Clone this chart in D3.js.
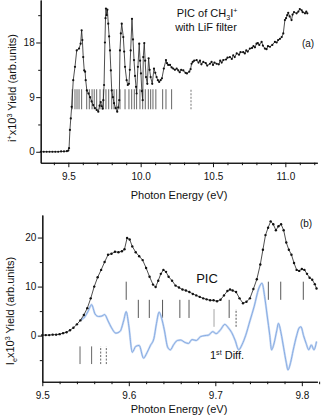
<!DOCTYPE html>
<html>
<head>
<meta charset="utf-8">
<script src="https://cdn.jsdelivr.net/npm/d3@7"></script>
<style>
body { margin: 0; background: #fff; }
svg { display: block; font-family: "Liberation Sans", Arial, sans-serif; }
</style>
</head>
<body>
<div id="chart"></div>
<script>
// ---- panel (a): PIC of CH3I+ with LiF filter
var energyA = [9.31, 9.33, 9.35, 9.37, 9.39, 9.41, 9.43, 9.45, 9.47, 9.49, 9.50, 9.505, 9.511, 9.517, 9.523,
  9.534, 9.546, 9.558, 9.574, 9.585, 9.592, 9.597, 9.603, 9.610, 9.616, 9.620, 9.628, 9.639, 9.650, 9.661,
  9.672, 9.684, 9.696, 9.707, 9.716, 9.724, 9.731, 9.737, 9.742, 9.747, 9.753, 9.757, 9.760, 9.765, 9.770,
  9.776, 9.782, 9.788, 9.794, 9.800, 9.808, 9.816, 9.827, 9.838, 9.845, 9.852, 9.857, 9.863, 9.869, 9.880,
  9.886, 9.892, 9.903, 9.911, 9.919, 9.925, 9.931, 9.940, 9.947, 9.954, 9.961, 9.968, 9.972, 9.981, 9.990,
  9.996, 10.002, 10.008, 10.014, 10.018, 10.025, 10.031, 10.037, 10.046, 10.055, 10.062, 10.069, 10.080,
  10.092, 10.101, 10.110, 10.119, 10.128, 10.138, 10.147, 10.160, 10.175, 10.182, 10.190, 10.203, 10.214,
  10.225, 10.237, 10.249, 10.260, 10.270, 10.280, 10.295, 10.310, 10.320, 10.336, 10.345, 10.352, 10.360,
  10.370, 10.387, 10.400, 10.410, 10.420, 10.433, 10.450, 10.460, 10.479, 10.490, 10.500, 10.510, 10.525,
  10.540, 10.550, 10.560, 10.571, 10.590, 10.600, 10.617, 10.630, 10.640, 10.650, 10.664, 10.680, 10.690,
  10.709, 10.720, 10.730, 10.740, 10.755, 10.770, 10.780, 10.790, 10.801, 10.810, 10.820, 10.836, 10.845,
  10.859, 10.870, 10.880, 10.894, 10.910, 10.928, 10.940, 10.950, 10.963, 10.975, 10.986, 10.997, 11.005,
  11.013, 11.020, 11.030, 11.043, 11.050, 11.060, 11.078, 11.090, 11.100, 11.113, 11.120, 11.136, 11.145, 11.152];
var yieldA = [0, 0, 0, 0, 0, 0, 0, 0.05, 0.05, 0.1, 0.2, 0.6, 3.6, 5.5, 7.4,
  11.8, 14, 16.7, 17, 17.8, 20, 18.4, 15.6, 13.4, 13.2, 11.8, 10.1, 9.6, 9, 8.3,
  7.7, 7.2, 6.9, 6.6, 7.6, 8.2, 7.5, 7.1, 8.5, 11, 18, 22, 23.6, 22.5, 23.4,
  21.1, 19, 16.7, 13.4, 10.1, 9, 8, 7.2, 6.6, 7.3, 8.5, 16.7, 19.5, 21.1, 18.9,
  16.5, 14, 11.8, 11.0, 11.2, 13.5, 16.7, 21.9, 18.5, 15.1, 12.5, 10.7, 9.6, 14, 17.8,
  15, 12.9, 10, 8.5, 15.6, 17.9, 15, 12.3, 11.2, 15.4, 13.5, 12.3, 11.2,
  13.7, 13, 12.3, 11.8, 11.5, 11.8, 12.1, 13.7, 15.1, 14.6, 14.3, 14.3, 13.9,
  13.7, 13.5, 13.7, 13.4, 13.1, 13.5, 13.4, 13.0, 12.9, 13.2, 13.6, 14.5, 14.8,
  15.0, 15.1, 14.7, 15.0, 14.4, 14.8, 14.6, 14.2, 14.5, 14.8, 14.3, 14.7, 14.5,
  14.4, 15.0, 14.7, 15.1, 15.2, 15.5, 15.6, 15.3, 15.9, 15.6, 16.2, 16.0, 16.4,
  16.4, 16.2, 16.7, 16.5, 17, 17.1, 17.4, 17.2, 17.8, 17.9, 17.6, 18.1, 17.5,
  17, 16.9, 17.4, 17.3, 17.6, 18.1, 18.0, 18.4, 18.6, 18.9, 19.5, 21.7, 22.0,
  22.5, 22.9, 22.3, 21.7, 22.6, 23.0, 22.8, 23.1, 23.5, 23.3, 23.0, 22.8, 23.1, 22.8];
var levelsA = [9.527, 9.546, 9.560, 9.574, 9.592, 9.627, 9.645, 9.664, 9.679, 9.696, 9.719, 9.742,
  9.760, 9.779, 9.800, 9.816, 9.834, 9.857, 9.892, 9.919, 9.938, 9.956, 9.972, 9.995, 10.014,
  10.032, 10.053, 10.069, 10.085, 10.105, 10.152, 10.175, 10.214];
var levelsADashed = [10.348];
var ticksAX = [9.5, 10.0, 10.5, 11.0];
var ticksAY = [0, 9, 18];

// ---- panel (b): PIC and first difference
var energyB = [9.500, 9.504, 9.508, 9.512, 9.516, 9.520, 9.524, 9.528, 9.532, 9.536, 9.540, 9.544, 9.548,
  9.552, 9.556, 9.560, 9.564, 9.568, 9.572, 9.576, 9.580, 9.584, 9.588, 9.592, 9.595, 9.598, 9.601, 9.604,
  9.608, 9.612, 9.616, 9.620, 9.624, 9.628, 9.631, 9.634, 9.637, 9.640, 9.643, 9.646, 9.650, 9.654, 9.658,
  9.662, 9.666, 9.670, 9.674, 9.678, 9.682, 9.686, 9.690, 9.694, 9.698, 9.702, 9.706, 9.710, 9.714, 9.717,
  9.720, 9.724, 9.728, 9.732, 9.736, 9.740, 9.744, 9.748, 9.752, 9.755, 9.758, 9.761, 9.764, 9.767, 9.770,
  9.773, 9.776, 9.779, 9.782, 9.785, 9.788, 9.791, 9.794, 9.797, 9.800, 9.803, 9.806, 9.809, 9.812, 9.815, 9.817];
var yieldB = [0.1, 0.1, 0.1, 0.2, 0.2, 0.3, 0.5, 0.7, 1.1, 1.6, 2.3, 3.1, 4.2,
  5.6, 7.6, 10.0, 11.9, 13.4, 15.0, 16.5, 16.7, 17.1, 17.0, 17.2, 17.6, 19.9, 19.6, 18.2,
  17.0, 16.2, 15.4, 13.8, 12.0, 10.4, 9.9, 11.2, 12.6, 13.4, 13.0, 12.0, 11.2, 10.2, 9.8,
  9.4, 9.2, 8.9, 8.5, 8.2, 7.9, 7.6, 7.4, 7.2, 7.2, 7.0, 7.3, 8.2, 9.1, 9.4,
  9.2, 8.9, 7.6, 6.6, 6.9, 7.6, 9.5, 11.5, 14.5, 17.5, 20.5, 22.0, 23.3, 22.7, 21.5,
  22.3, 22.7, 21.5, 19.0, 17.5, 16.5, 14.8, 13.4, 13.2, 13.6, 13.4, 12.6, 11.8, 11.4, 10.5, 9.6];
var diffEnergy = [9.545, 9.549, 9.553, 9.557, 9.561, 9.565, 9.569, 9.572, 9.576, 9.580, 9.585, 9.590, 9.594,
  9.597, 9.600, 9.604, 9.608, 9.612, 9.617, 9.621, 9.625, 9.629, 9.632, 9.635, 9.638, 9.641, 9.645, 9.648,
  9.652, 9.656, 9.660, 9.665, 9.669, 9.673, 9.678, 9.683, 9.688, 9.692, 9.697, 9.701, 9.706, 9.711, 9.715,
  9.719, 9.723, 9.727, 9.731, 9.735, 9.740, 9.745, 9.750, 9.754, 9.757, 9.760, 9.763, 9.765, 9.768, 9.771,
  9.773, 9.776, 9.779, 9.782, 9.784, 9.787, 9.790, 9.794, 9.797, 9.799, 9.802, 9.805, 9.808, 9.811, 9.814, 9.817];
var diffYield = [3.2, 3.8, 5.0, 6.3, 4.4, 3.9, 4.0, 4.3, 3.0, 1.6, 0.5, 0.9, 3.0,
  4.9, 2.0, -3.4, -2.2, -2.0, -4.6, -3.5, -2.0, -0.6, 2.5, 4.8, 3.5, 1.2, -2.4, -2.9,
  -1.8, -1.0, -0.9, -1.4, -1.6, -0.8, -1.0, -0.2, 0.0, 0.1, 0.8, 0.4, 1.2, 2.3, 1.6,
  0.6, -1.0, -2.9, -1.8, 0.0, 3.0, 6.0, 9.5, 10.7, 8.0, 4.0, 0.0, -2.9, -1.5, 1.0,
  2.5, 0.5, -2.5, -5.5, -7.0, -5.5, -3.0, 0.0, 1.6, 1.8, 0.0, -1.6, -2.9, -1.9, -2.9, -1.2];
var levelsBTop = [9.597, 9.7613, 9.7756, 9.8017];
var levelsBMid = [9.611, 9.6237, 9.639, 9.659, 9.6696, 9.716];
var levelsBLow2 = [9.6985];
var levelsBLow2Dashed = [9.724];
var levelsBBottom = [9.5436, 9.557];
var levelsBBottomDashed = [9.5675, 9.574];
var ticksBX = [9.5, 9.6, 9.7, 9.8];
var ticksBY = [0, 10, 20];

var width = 324, height = 415;
var svg = d3.select("#chart").append("svg")
    .attr("width", width)
    .attr("height", height);

// scales
var xA = d3.scaleLinear().domain([9.309, 11.221]).range([40.7, 317.3]);
var yA = d3.scaleLinear().domain([-1.8, 25]).range([162.7, 0]);
var xB = d3.scaleLinear().domain([9.5, 9.818]).range([42.3, 317.4]);
var yB = d3.scaleLinear().domain([-9.4, 24.6]).range([381.7, 215]);

function styleAxis(g) {
    g.attr("font-family", null).attr("font-size", 10);
    g.selectAll("path.domain").attr("stroke", "#111").attr("stroke-width", 1.1);
    g.selectAll(".tick line").attr("stroke", "#111").attr("stroke-width", 1);
    g.selectAll(".tick text").attr("fill", "#111");
}

function drawAxes(x, y, xticks, xminor, yticks, yminor, fmtX, fmtY) {
    var x0 = x.range()[0], y0 = y.range()[0];
    svg.append("g").attr("transform", "translate(0," + y0 + ")")
        .call(d3.axisBottom(x).tickValues(xminor).tickSize(2.5).tickSizeOuter(0).tickFormat(""))
        .call(styleAxis);
    svg.append("g").attr("transform", "translate(0," + y0 + ")")
        .call(d3.axisBottom(x).tickValues(xticks).tickSize(4.5).tickSizeOuter(0).tickPadding(5.5).tickFormat(fmtX))
        .call(styleAxis);
    svg.append("g").attr("transform", "translate(" + x0 + ",0)")
        .call(d3.axisLeft(y).tickValues(yminor).tickSize(2.5).tickSizeOuter(0).tickFormat(""))
        .call(styleAxis);
    svg.append("g").attr("transform", "translate(" + x0 + ",0)")
        .call(d3.axisLeft(y).tickValues(yticks).tickSize(4.5).tickSizeOuter(0).tickPadding(1.5).tickFormat(fmtY))
        .call(styleAxis);
}

function minorTicks(lo, hi, step, majors) {
    return d3.range(lo, hi + step / 2, step).filter(function (v) {
        return !majors.some(function (m) { return Math.abs(m - v) < step / 10; });
    });
}

drawAxes(xA, yA, ticksAX, minorTicks(9.4, 11.2, 0.1, ticksAX), ticksAY, [4.5, 13.5, 22.5],
    d3.format(".1f"), d3.format("d"));
drawAxes(xB, yB, ticksBX, minorTicks(9.52, 9.82, 0.02, ticksBX), ticksBY, [-5, 5, 15],
    d3.format(".1f"), d3.format("d"));

// level marks
function drawMarks(x, y, energies, lo, hi, color, dash) {
    svg.append("g").selectAll("line")
        .data(energies)
        .enter().append("line")
        .attr("x1", function (d) { return x(d); })
        .attr("x2", function (d) { return x(d); })
        .attr("y1", y(lo))
        .attr("y2", y(hi))
        .attr("stroke", color)
        .attr("stroke-width", 0.9)
        .attr("stroke-dasharray", dash);
}

drawMarks(xA, yA, levelsA, 7, 10.3, "#555", null);
drawMarks(xA, yA, levelsADashed, 7, 10.3, "#666", "2,1.5");

drawMarks(xB, yB, levelsBTop, 7.3, 11, "#444", null);
drawMarks(xB, yB, levelsBMid, 3.6, 7.3, "#444", null);
drawMarks(xB, yB, levelsBLow2, 1.8, 5.4, "#999", null);
drawMarks(xB, yB, levelsBLow2Dashed, 1.8, 5.4, "#444", "2,1.5");
drawMarks(xB, yB, levelsBBottom, -5.8, -2.2, "#555", null);
drawMarks(xB, yB, levelsBBottomDashed, -5.8, -2.2, "#555", "2,1.5");

// curves
function drawDotted(x, y, xs, ys, r) {
    var pts = d3.zip(xs, ys);
    svg.append("path")
        .datum(pts)
        .attr("fill", "none")
        .attr("stroke", "#222")
        .attr("stroke-width", 0.8)
        .attr("d", d3.line().x(function (d) { return x(d[0]); }).y(function (d) { return y(d[1]); }));
    svg.append("g").selectAll("circle")
        .data(pts)
        .enter().append("circle")
        .attr("cx", function (d) { return x(d[0]); })
        .attr("cy", function (d) { return y(d[1]); })
        .attr("r", r)
        .attr("fill", "#111");
}

var diffLine = d3.line().curve(d3.curveMonotoneX)
    .x(function (d) { return xB(d[0]); })
    .y(function (d) { return yB(d[1]); });
svg.append("path")
    .datum(d3.zip(diffEnergy, diffYield))
    .attr("fill", "none")
    .attr("stroke", "#c9daf4")
    .attr("stroke-width", 2.2)
    .attr("d", diffLine);
svg.append("path")
    .datum(d3.zip(diffEnergy, diffYield))
    .attr("fill", "none")
    .attr("stroke", "#7fa6e0")
    .attr("stroke-width", 0.9)
    .attr("d", diffLine);

drawDotted(xA, yA, energyA, yieldA, 1.1);
drawDotted(xB, yB, energyB, yieldB, 1.2);

// texts
function label(x, y, size, parts, anchor) {
    var t = svg.append("text")
        .attr("x", x).attr("y", y)
        .attr("font-size", size)
        .attr("fill", "#111")
        .attr("text-anchor", anchor || "middle");
    parts.forEach(function (p) {
        var s = t.append("tspan").text(p[0]);
        if (p[1] === "sup") s.attr("font-size", size * 0.65).attr("dy", -size * 0.38);
        if (p[1] === "sub") s.attr("font-size", size * 0.65).attr("dy", size * 0.25);
        if (p[1] === "back") s.attr("dy", p[2]);
    });
    return t;
}

label(207, 17, 11, [["PIC of CH"], ["3", "sub"], ["I", "back", -11 * 0.25], ["+", "sup"]]);
label(206, 31, 11, [["with LiF filter"]]);
label(308, 47, 10, [["(a)"]]);
label(179, 199, 11, [["Photon Energy (eV)"]]);

label(306, 226.5, 10, [["(b)"]]);
label(207, 283, 13, [["PIC"]]);
label(227, 359, 11, [["1"], ["st", "sup"], [" Diff.", "back", 11 * 0.38]]);
label(179, 412.5, 11, [["Photon Energy (eV)"]]);

label(0, 0, 11, [["i"], ["+", "sup"], ["x10", "back", 11 * 0.38], ["3", "sup"], [" Yield (arb.units)", "back", 11 * 0.38]])
    .attr("transform", "translate(16,88) rotate(-90)");
label(0, 0, 11, [["I"], ["e", "sub"], ["x10", "back", -11 * 0.25], ["3", "sup"], [" Yield (arb.units)", "back", 11 * 0.38]])
    .attr("transform", "translate(14,311) rotate(-90)");
</script>
</body>
</html>
